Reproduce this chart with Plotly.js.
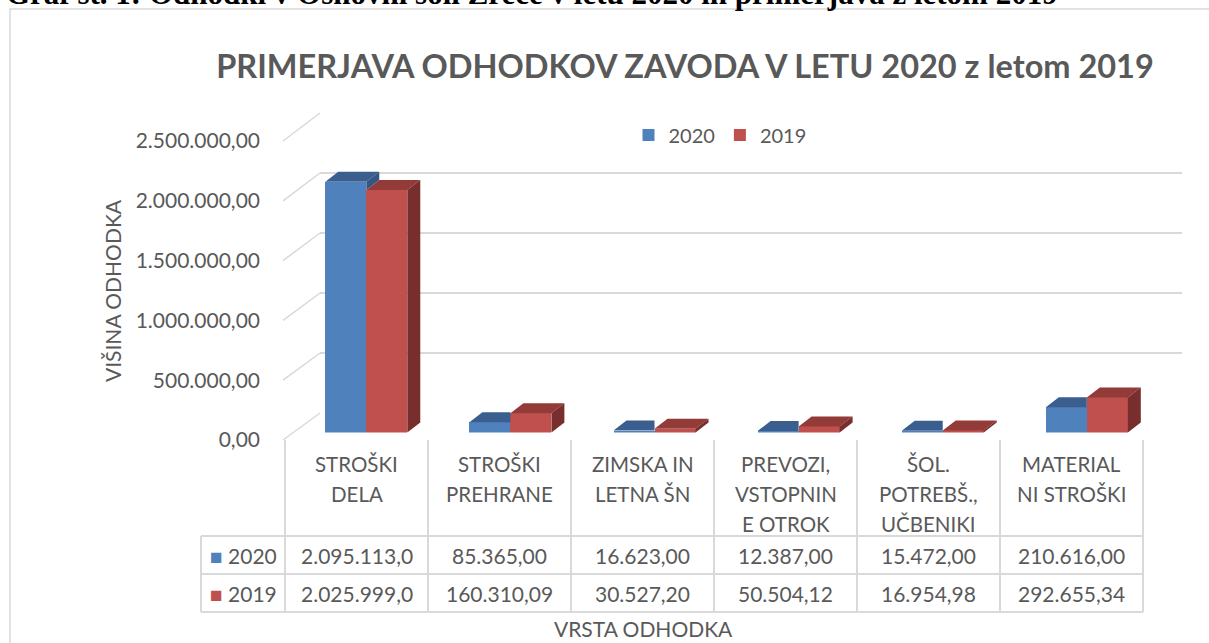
<!DOCTYPE html>
<html>
<head>
<meta charset="utf-8">
<script src="https://cdn.plot.ly/plotly-3.0.1.min.js"></script>
<style>html,body{margin:0;padding:0;background:#fff;}#chart{width:1209px;height:643px;}</style>
</head>
<body>
<div id="chart"></div>
<script>
// ---- DATA ----
const categories = ["STROŠKI<br>DELA", "STROŠKI<br>PREHRANE", "ZIMSKA IN<br>LETNA ŠN", "PREVOZI,<br>VSTOPNIN<br>E OTROK", "ŠOL.<br>POTREBŠ.,<br>UČBENIKI", "MATERIAL<br>NI STROŠKI"];
const seriesNames = ["2020", "2019"];
const values2020 = [2095113.00, 85365.00, 16623.00, 12387.00, 15472.00, 210616.00];
const values2019 = [2025999.00, 160310.09, 30527.20, 50504.12, 16954.98, 292655.34];
const yTickVals = [0, 500000, 1000000, 1500000, 2000000, 2500000];
const chartTitle = "PRIMERJAVA ODHODKOV ZAVODA V LETU 2020 z letom 2019";
const captionText = "Graf št. 1: Odhodki v Osnovni šoli Zreče v letu 2020 in primerjava z letom 2019";
const yTitle = "VIŠINA ODHODKA";
const xTitle = "VRSTA ODHODKA";

// ---- STYLE ----
const W = 1209, H = 643;
const PX = p => p / W, PY = p => 1 - p / H;
const txt = '#595959', grid = '#d9d9d9';
const c20 = {front: '#4f81bd', top: '#3a5f8e', side: '#345682'};
const c19 = {front: '#c0504d', top: '#923b39', side: '#782e2c'};
const barW = 0.2845, depthX = 0.09, depthY = 83500;
const font = 'Lato, "Open Sans", sans-serif';

function fmt(v) { // Slovene number format; cell shows max 11 characters
  let s = v.toFixed(2).split('.');
  let i = s[0].replace(/\B(?=(\d{3})+(?!\d))/g, '.');
  return (i + ',' + s[1]).slice(0, 11);
}

const idx = categories.map((_, i) => i);
const traces = [];
// dummy traces to create grid (xy) and front-tick (x2y2) subplots
traces.push({type: 'scatter', x: [null], y: [null], xaxis: 'x', yaxis: 'y', showlegend: false, hoverinfo: 'skip'});
traces.push({type: 'scatter', x: [null], y: [null], xaxis: 'x2', yaxis: 'y2', showlegend: false, hoverinfo: 'skip'});

// front faces (bars)
traces.push({type: 'bar', name: seriesNames[0], x: idx, y: values2020, width: barW, offset: -barW,
  marker: {color: c20.front, line: {width: 0}}, xaxis: 'x3', yaxis: 'y3', hoverinfo: 'y'});
traces.push({type: 'bar', name: seriesNames[1], x: idx, y: values2019, width: barW, offset: 0,
  marker: {color: c19.front, line: {width: 0}}, xaxis: 'x3', yaxis: 'y3', hoverinfo: 'y'});

// 3D faces computed from the same values
function face(polys, color) {
  const xs = [], ys = [];
  polys.forEach(p => { p.forEach(q => { xs.push(q[0]); ys.push(q[1]); }); xs.push(null); ys.push(null); });
  return {type: 'scatter', mode: 'lines', x: xs, y: ys, fill: 'toself', fillcolor: color,
    line: {width: 0, color: color}, xaxis: 'x3', yaxis: 'y3', showlegend: false, hoverinfo: 'skip'};
}
const blueTop = [], blueSide = [], redTop = [], redSide = [];
idx.forEach(i => {
  const b = values2020[i], r = values2019[i];
  const bx0 = i - barW, bx1 = i, rx0 = i, rx1 = i + barW;
  if (b >= r) {
    blueTop.push([[bx0, b], [bx1, b], [bx1 + depthX, b + depthY], [bx0 + depthX, b + depthY]]);
    blueSide.push([[bx1, r], [bx1, b], [bx1 + depthX, b + depthY], [bx1 + depthX, r + depthY]]);
  } else {
    blueTop.push([[bx0, b], [bx1, b], [bx1, b + depthY], [bx0 + depthX, b + depthY]]);
  }
  redTop.push([[rx0, r], [rx1, r], [rx1 + depthX, r + depthY], [rx0 + depthX, r + depthY]]);
  redSide.push([[rx1, 0], [rx1, r], [rx1 + depthX, r + depthY], [rx1 + depthX, depthY]]);
});
traces.push(face(blueTop, c20.top));
traces.push(face(blueSide, c20.side));
traces.push(face(redTop, c19.top));
traces.push(face(redSide, c19.side));

// ---- shapes ----
const shapes = [];
const line = (x0, y0, x1, y1, w) => ({type: 'line', xref: 'paper', yref: 'paper', x0: PX(x0), y0: PY(y0), x1: PX(x1), y1: PY(y1),
  line: {color: grid, width: w || 2}, layer: 'below'});
// outer frame
shapes.push({type: 'rect', xref: 'paper', yref: 'paper', x0: PX(10), y0: -0.02, x1: 1.02, y1: PY(9),
  line: {color: grid, width: 1.5}, fillcolor: 'rgba(0,0,0,0)', layer: 'below'});
// perspective connectors for gridlines: front edge -> back wall
const frontY = v => 440 - 299 * v / 2500000, backY = v => 413 - 300 * v / 2500000;
yTickVals.forEach(v => shapes.push(line(283, frontY(v), 320, backY(v), 1.5)));
// data table grid
const colEdges = [285, 428, 571, 714, 857, 1000, 1143];
const tableLeft = 201, hdrTop = 440, rowLines = [536, 574, 612];
colEdges.forEach(x => shapes.push(line(x, hdrTop, x, rowLines[2])));
shapes.push(line(tableLeft, rowLines[0], tableLeft, rowLines[2]));
rowLines.forEach(y => shapes.push(line(tableLeft, y, colEdges[colEdges.length - 1], y)));

// ---- annotations ----
const ann = [];
const A = (text, x, y, size, extra) => Object.assign({text: text, xref: 'paper', yref: 'paper', x: PX(x), y: PY(y),
  showarrow: false, font: {family: font, size: size, color: txt}, xanchor: 'center', yanchor: 'middle'}, extra || {});
ann.push(A(captionText, 4, 13, 31, {xanchor: 'left', yanchor: 'bottom',
  font: {family: '"Liberation Serif", "Times New Roman", serif', size: 31, color: '#000', weight: 'bold'}}));
ann.push(A(yTitle, 112, 291, 21, {textangle: -90}));
ann.push(A(xTitle, 643, 628, 21));
categories.forEach((c, i) => {
  const cx = (colEdges[i] + colEdges[i + 1]) / 2;
  c.split('<br>').forEach((ln, j) => ann.push(A(ln, cx, 464 + 30 * j, 20.5)));
  ann.push(A(fmt(values2020[i]), cx, 555, 21));
  ann.push(A(fmt(values2019[i]), cx, 593, 21));
});
ann.push(A('<span style="color:' + c20.front + '">■</span> ' + seriesNames[0], 243, 555, 21));
ann.push(A('<span style="color:' + c19.front + '">■</span> ' + seriesNames[1], 243, 593, 21));

const layout = {
  width: W, height: H, margin: {l: 0, r: 0, t: 0, b: 0},
  paper_bgcolor: '#fff', plot_bgcolor: 'rgba(0,0,0,0)',
  font: {family: font, color: txt},
  separators: ',.',
  title: {text: chartTitle, x: PX(685), xanchor: 'center', y: PY(67), yanchor: 'middle',
    font: {family: font, size: 32.5, color: txt, weight: 'bold'}},
  showlegend: true,
  legend: {orientation: 'h', x: PX(720), xanchor: 'center', y: PY(135), yanchor: 'middle',
    font: {size: 20, color: txt}, bgcolor: 'rgba(0,0,0,0)', itemwidth: 30, traceorder: 'normal'},
  bargap: 0, barmode: 'overlay',
  // back-wall grid
  xaxis: {domain: [PX(320), PX(1182)], range: [0, 1], visible: false, fixedrange: true},
  yaxis: {domain: [PY(413), PY(113)], range: [0, 2500000], tickvals: yTickVals, showticklabels: false,
    showgrid: true, gridcolor: grid, gridwidth: 1.5, zeroline: false, showline: false, ticks: '', fixedrange: true},
  // front tick labels
  xaxis2: {domain: [PX(261), PX(283)], range: [0, 1], visible: false, anchor: 'y2', fixedrange: true},
  yaxis2: {domain: [PY(440), PY(141)], range: [0, 2500000], anchor: 'x2', tickvals: yTickVals, tickformat: ',.2f',
    showgrid: false, zeroline: false, showline: false, ticks: '', tickfont: {size: 21, color: txt}, fixedrange: true},
  // bars
  xaxis3: {domain: [PX(294.25), PX(1158.9)], range: [-0.5, 5.5], visible: false, anchor: 'y3', fixedrange: true},
  yaxis3: {domain: [PY(432.5), PY(133.25)], range: [0, 2500000], visible: false, anchor: 'x3', fixedrange: true},
  shapes: shapes,
  annotations: ann
};

Plotly.newPlot('chart', traces, layout, {displayModeBar: false, staticPlot: true});
</script>
</body>
</html>
